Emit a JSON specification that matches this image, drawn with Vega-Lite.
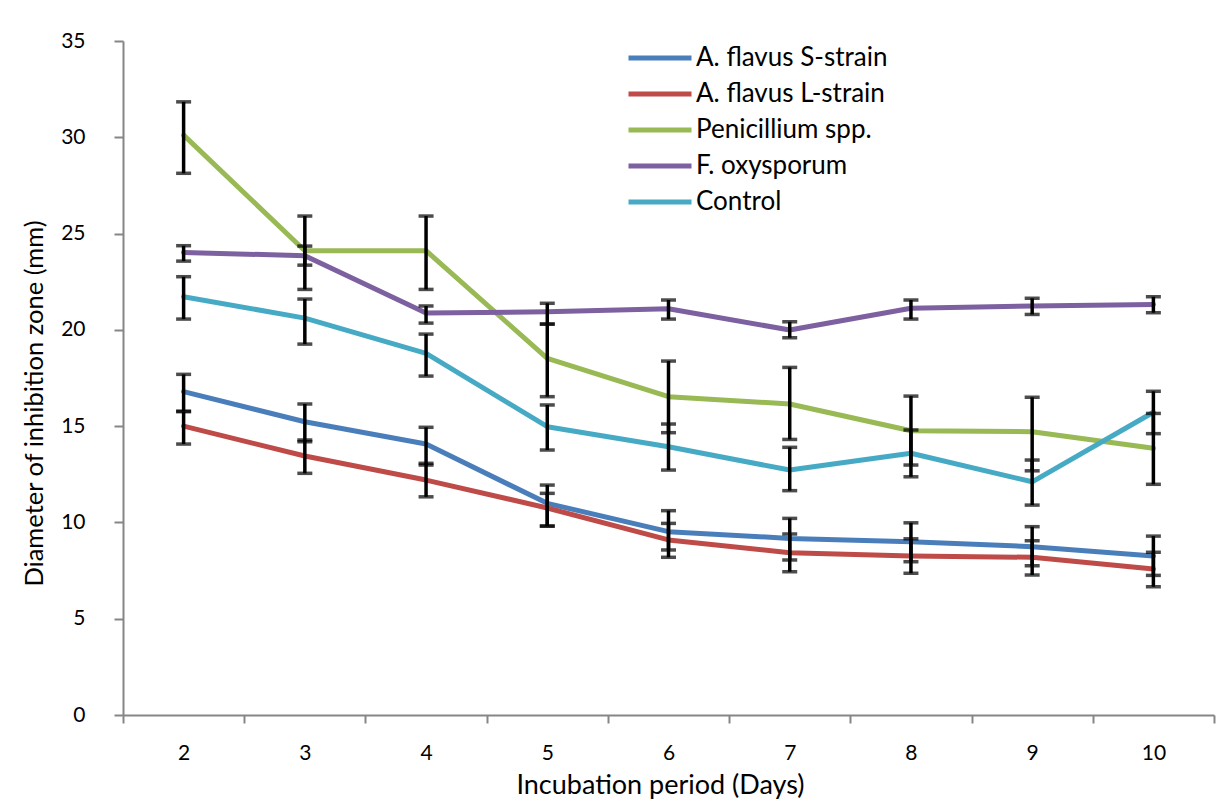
{
  "$schema": "https://vega.github.io/schema/vega-lite/v6.json",
  "width": 1091,
  "height": 674,
  "autosize": {"type": "none"},
  "padding": {"left": 123, "top": 41, "right": 2, "bottom": 86},
  "background": "white",
  "config": {
    "view": {"stroke": null},
    "font": "Lato",
    "axis": {"labelColor": "black", "titleColor": "black", "titleFontWeight": "normal", "grid": false}
  },
  "data": {
    "values": [
      {"day": 2, "series": "A. flavus S-strain", "value": 16.79, "lo": 15.78, "hi": 17.69},
      {"day": 3, "series": "A. flavus S-strain", "value": 15.23, "lo": 14.19, "hi": 16.15},
      {"day": 4, "series": "A. flavus S-strain", "value": 14.07, "lo": 12.98, "hi": 14.94},
      {"day": 5, "series": "A. flavus S-strain", "value": 10.99, "lo": 9.81, "hi": 11.94},
      {"day": 6, "series": "A. flavus S-strain", "value": 9.52, "lo": 8.57, "hi": 10.61},
      {"day": 7, "series": "A. flavus S-strain", "value": 9.17, "lo": 8.05, "hi": 10.21},
      {"day": 8, "series": "A. flavus S-strain", "value": 9.0, "lo": 7.96, "hi": 9.98},
      {"day": 9, "series": "A. flavus S-strain", "value": 8.74, "lo": 7.75, "hi": 9.78},
      {"day": 10, "series": "A. flavus S-strain", "value": 8.26, "lo": 7.25, "hi": 9.29},
      {"day": 2, "series": "A. flavus L-strain", "value": 15.0, "lo": 14.07, "hi": 15.75},
      {"day": 3, "series": "A. flavus L-strain", "value": 13.45, "lo": 12.55, "hi": 14.28},
      {"day": 4, "series": "A. flavus L-strain", "value": 12.2, "lo": 11.33, "hi": 13.07},
      {"day": 5, "series": "A. flavus L-strain", "value": 10.75, "lo": 9.81, "hi": 11.51},
      {"day": 6, "series": "A. flavus L-strain", "value": 9.09, "lo": 8.19, "hi": 9.95},
      {"day": 7, "series": "A. flavus L-strain", "value": 8.43, "lo": 7.44, "hi": 9.4},
      {"day": 8, "series": "A. flavus L-strain", "value": 8.26, "lo": 7.36, "hi": 9.15},
      {"day": 9, "series": "A. flavus L-strain", "value": 8.19, "lo": 7.27, "hi": 9.05},
      {"day": 10, "series": "A. flavus L-strain", "value": 7.58, "lo": 6.66, "hi": 8.45},
      {"day": 2, "series": "Penicillium spp.", "value": 30.11, "lo": 28.13, "hi": 31.84},
      {"day": 3, "series": "Penicillium spp.", "value": 24.11, "lo": 22.1, "hi": 25.91},
      {"day": 4, "series": "Penicillium spp.", "value": 24.11, "lo": 22.1, "hi": 25.91},
      {"day": 5, "series": "Penicillium spp.", "value": 18.52, "lo": 16.53, "hi": 20.3},
      {"day": 6, "series": "Penicillium spp.", "value": 16.53, "lo": 14.66, "hi": 18.38},
      {"day": 7, "series": "Penicillium spp.", "value": 16.15, "lo": 14.31, "hi": 18.05},
      {"day": 8, "series": "Penicillium spp.", "value": 14.76, "lo": 12.98, "hi": 16.56},
      {"day": 9, "series": "Penicillium spp.", "value": 14.71, "lo": 12.68, "hi": 16.5},
      {"day": 10, "series": "Penicillium spp.", "value": 13.85, "lo": 11.98, "hi": 15.66},
      {"day": 2, "series": "F. oxysporum", "value": 24.02, "lo": 23.57, "hi": 24.37},
      {"day": 3, "series": "F. oxysporum", "value": 23.85, "lo": 23.36, "hi": 24.35},
      {"day": 4, "series": "F. oxysporum", "value": 20.87, "lo": 20.35, "hi": 21.24},
      {"day": 5, "series": "F. oxysporum", "value": 20.94, "lo": 20.3, "hi": 21.38},
      {"day": 6, "series": "F. oxysporum", "value": 21.1, "lo": 20.56, "hi": 21.55},
      {"day": 7, "series": "F. oxysporum", "value": 19.99, "lo": 19.59, "hi": 20.42},
      {"day": 8, "series": "F. oxysporum", "value": 21.12, "lo": 20.56, "hi": 21.55},
      {"day": 9, "series": "F. oxysporum", "value": 21.24, "lo": 20.8, "hi": 21.64},
      {"day": 10, "series": "F. oxysporum", "value": 21.32, "lo": 20.89, "hi": 21.72},
      {"day": 2, "series": "Control", "value": 21.72, "lo": 20.56, "hi": 22.76},
      {"day": 3, "series": "Control", "value": 20.61, "lo": 19.26, "hi": 21.6},
      {"day": 4, "series": "Control", "value": 18.78, "lo": 17.6, "hi": 19.78},
      {"day": 5, "series": "Control", "value": 14.97, "lo": 13.76, "hi": 16.1},
      {"day": 6, "series": "Control", "value": 13.93, "lo": 12.72, "hi": 15.11},
      {"day": 7, "series": "Control", "value": 12.72, "lo": 11.65, "hi": 13.9},
      {"day": 8, "series": "Control", "value": 13.59, "lo": 12.37, "hi": 14.8},
      {"day": 9, "series": "Control", "value": 12.11, "lo": 10.9, "hi": 13.24},
      {"day": 10, "series": "Control", "value": 15.72, "lo": 14.61, "hi": 16.81}
    ]
  },
  "encoding": {
    "x": {
      "field": "day",
      "type": "ordinal",
      "scale": {"type": "band", "paddingInner": 0, "paddingOuter": 0, "domain": [2, 3, 4, 5, 6, 7, 8, 9, 10]},
      "axis": {
        "title": "Incubation period (Days)",
        "labelAngle": 0,
        "tickBand": "extent",
        "tickSize": 8,
        "tickWidth": 2,
        "tickColor": "#868686",
        "domainColor": "#868686",
        "domainWidth": 2,
        "labelFontSize": 21,
        "labelPadding": 19,
        "titleFontSize": 27,
        "titleX": 537,
        "titleY": 78,
        "titleAlign": "center",
        "titleBaseline": "alphabetic"
      }
    }
  },
  "layer": [
    {
      "mark": {"type": "line", "strokeWidth": 5, "strokeCap": "round", "strokeJoin": "round"},
      "encoding": {
        "y": {
          "field": "value",
          "type": "quantitative",
          "scale": {"domain": [0, 35], "nice": false, "zero": true},
          "axis": {
            "title": "Diameter of inhibition zone (mm)",
            "values": [0, 5, 10, 15, 20, 25, 30, 35],
            "tickSize": 9,
            "tickWidth": 2,
            "tickColor": "#868686",
            "domainColor": "#868686",
            "domainWidth": 2,
            "labelFontSize": 21,
            "labelPadding": 29,
            "titleFontSize": 25.5,
            "titlePadding": 13,
            "titleY": 362
          }
        },
        "color": {
          "field": "series",
          "type": "nominal",
          "scale": {
            "domain": ["A. flavus S-strain", "A. flavus L-strain", "Penicillium spp.", "F. oxysporum", "Control"],
            "range": ["#4A7EBB", "#BE4B48", "#98B954", "#7D60A0", "#46AAC5"]
          },
          "legend": {
            "title": null,
            "orient": "none",
            "legendX": 503,
            "legendY": 4,
            "padding": 0,
            "labelFontSize": 26,
            "labelColor": "black",
            "labelLimit": 400,
            "symbolType": "stroke",
            "symbolStrokeWidth": 5,
            "symbolSize": 3969,
            "clipHeight": 26,
            "rowPadding": 10,
            "labelOffset": 2
          }
        }
      }
    },
    {
      "mark": {"type": "rule", "color": "black", "strokeWidth": 3.5},
      "encoding": {
        "y": {"field": "lo", "type": "quantitative"},
        "y2": {"field": "hi"}
      }
    },
    {
      "mark": {"type": "tick", "color": "black", "thickness": 3.5, "size": 15, "orient": "horizontal"},
      "encoding": {
        "y": {"field": "lo", "type": "quantitative"}
      }
    },
    {
      "mark": {"type": "tick", "color": "black", "thickness": 3.5, "size": 15, "orient": "horizontal"},
      "encoding": {
        "y": {"field": "hi", "type": "quantitative"}
      }
    }
  ]
}
